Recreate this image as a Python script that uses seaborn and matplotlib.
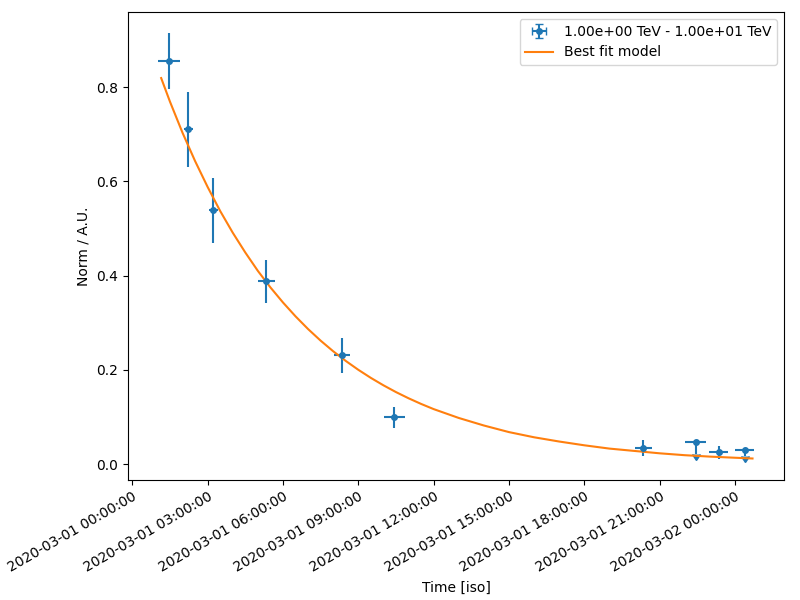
import matplotlib
matplotlib.use("Agg")
import matplotlib.pyplot as plt
import matplotlib.dates as mdates
import numpy as np
import pandas as pd
import seaborn as sns

# Light curve points
t_centre = ["2020-03-01 01:28", "2020-03-01 02:14", "2020-03-01 03:14", "2020-03-01 05:20",
            "2020-03-01 08:21", "2020-03-01 10:26", "2020-03-01 20:21", "2020-03-01 22:26",
            "2020-03-01 23:21", "2020-03-02 00:23"]
t_halfwidth_min = [27, 11, 11, 20, 20, 25, 20, 26, 22, 23]
norm = [0.855, 0.710, 0.539, 0.388, 0.231, 0.099, 0.035, 0.047, 0.0255, 0.0297]
norm_err = [0.059, 0.080, 0.069, 0.046, 0.037, 0.022, 0.017, 0.026, 0.014, 0.013]
is_ul = [False, False, False, False, False, False, False, True, False, True]

# Best fit model curve
model_time = ["2020-03-01 01:09", "2020-03-01 01:30", "2020-03-01 02:00", "2020-03-01 02:30",
              "2020-03-01 03:00", "2020-03-01 03:30", "2020-03-01 04:00", "2020-03-01 04:30",
              "2020-03-01 05:00", "2020-03-01 05:30", "2020-03-01 06:00", "2020-03-01 06:30",
              "2020-03-01 07:00", "2020-03-01 07:30", "2020-03-01 08:00", "2020-03-01 08:30",
              "2020-03-01 09:00", "2020-03-01 09:30", "2020-03-01 10:00", "2020-03-01 10:30",
              "2020-03-01 11:00", "2020-03-01 11:30", "2020-03-01 12:00", "2020-03-01 13:00",
              "2020-03-01 14:00", "2020-03-01 15:00", "2020-03-01 16:00", "2020-03-01 17:00",
              "2020-03-01 18:00", "2020-03-01 19:00", "2020-03-01 20:00", "2020-03-01 21:00",
              "2020-03-01 22:00", "2020-03-01 23:00", "2020-03-02 00:00", "2020-03-02 00:42"]
model_norm = [0.819, 0.769, 0.703, 0.643, 0.588, 0.537, 0.491, 0.449, 0.410, 0.375,
              0.343, 0.3136, 0.2866, 0.2620, 0.2395, 0.2190, 0.2002, 0.1830, 0.1673, 0.1529,
              0.1398, 0.1278, 0.1168, 0.098, 0.082, 0.068, 0.057, 0.048, 0.040, 0.033,
              0.028, 0.023, 0.019, 0.016, 0.0136, 0.012]

fig, ax = plt.subplots(figsize=(8, 6), dpi=100)
fig.subplots_adjust(left=0.16, right=0.98, top=0.98, bottom=0.2)
ax.xaxis_date()

x = mdates.date2num(pd.to_datetime(t_centre))
xerr = np.array(t_halfwidth_min) / 1440.0
eb = ax.errorbar(x, norm, xerr=xerr, yerr=norm_err, uplims=is_ul,
                 fmt="o", markersize=4, color="C0",
                 label="1.00e+00 TeV - 1.00e+01 TeV")

df_model = pd.DataFrame({"time": pd.to_datetime(model_time), "norm": model_norm})
sns.lineplot(data=df_model, x="time", y="norm", color="C1", ax=ax,
             label="Best fit model")

ax.xaxis.set_major_locator(mdates.HourLocator(byhour=range(0, 24, 3)))
ax.xaxis.set_major_formatter(mdates.DateFormatter("%Y-%m-%d %H:%M:%S"))
plt.setp(ax.get_xticklabels(), rotation=30, ha="right", rotation_mode="anchor")

ax.set_xlabel("Time [iso]")
ax.set_ylabel("Norm / A.U.")

line = ax.get_lines()[-1]
ax.legend([eb, line], ["1.00e+00 TeV - 1.00e+01 TeV", "Best fit model"], loc="upper right")

fig.savefig("out.png", dpi=100)
